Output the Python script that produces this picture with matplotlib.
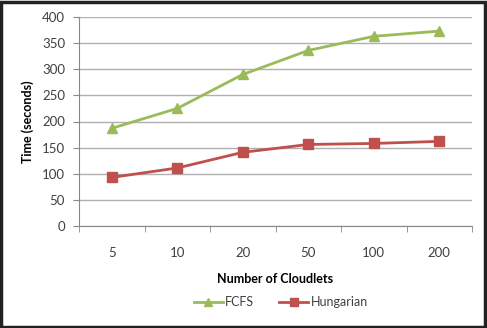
import matplotlib
matplotlib.use("Agg")
import matplotlib.pyplot as plt
from matplotlib.patches import Rectangle

categories = ["5", "10", "20", "50", "100", "200"]
fcfs = [187, 225, 290, 336, 363, 373]
hungarian = [93, 111, 141, 156, 158, 162]
yticks = [0, 50, 100, 150, 200, 250, 300, 350, 400]

plt.rcParams['font.family'] = ['Lato', 'DejaVu Sans']

W, H = 487, 328
fig = plt.figure(figsize=(W/100, H/100), dpi=100)
ax = fig.add_axes([79/W, 1-226/H, (472-79)/W, (226-17)/H])

x = list(range(len(categories)))
green = "#9BBB59"
red = "#C0504D"
ax.plot(x, fcfs, color=green, lw=2, marker="^", ms=7, label="FCFS", zorder=3)
ax.plot(x, hungarian, color=red, lw=2, marker="s", ms=7, label="Hungarian", zorder=3)

ax.set_xlim(-0.5, len(categories)-0.5)
ax.set_ylim(0, 400)
ax.set_yticks(yticks)
ax.set_xticks(x)
ax.set_xticklabels(categories)
ax.set_xticks([i - 0.5 for i in range(len(categories)+1)], minor=True)
ax.tick_params(axis='x', which='major', length=0, pad=15, labelsize=9.5, colors="#404040")
ax.tick_params(axis='x', which='minor', length=4, color="#888888", direction='out')
ax.tick_params(axis='y', length=4, color="#888888", labelsize=9.5, colors="#404040", pad=6)
ax.grid(axis='y', color="#b0b0b0", lw=1)
ax.set_axisbelow(True)
for s in ["top", "right"]:
    ax.spines[s].set_visible(False)
for s in ["left", "bottom"]:
    ax.spines[s].set_color("#888888")

ax.set_ylabel("Time (seconds)", fontsize=9, fontweight="bold", labelpad=6)
ax.set_xlabel("Number of Cloudlets", fontsize=9, fontweight="bold", labelpad=10)

leg = fig.legend(loc="center", bbox_to_anchor=(281/W, 1-302/H), ncol=2, frameon=False,
                 fontsize=9, handlelength=2.3, columnspacing=2.0, handletextpad=0.2,
                 markerscale=0.75)
for t in leg.get_texts():
    t.set_color("#404040")

fig.patches.append(Rectangle((0.002, 0.003), 0.994, 0.992, transform=fig.transFigure,
                             fill=False, edgecolor="#222222", lw=2.5))

fig.savefig("out.png", dpi=100)
